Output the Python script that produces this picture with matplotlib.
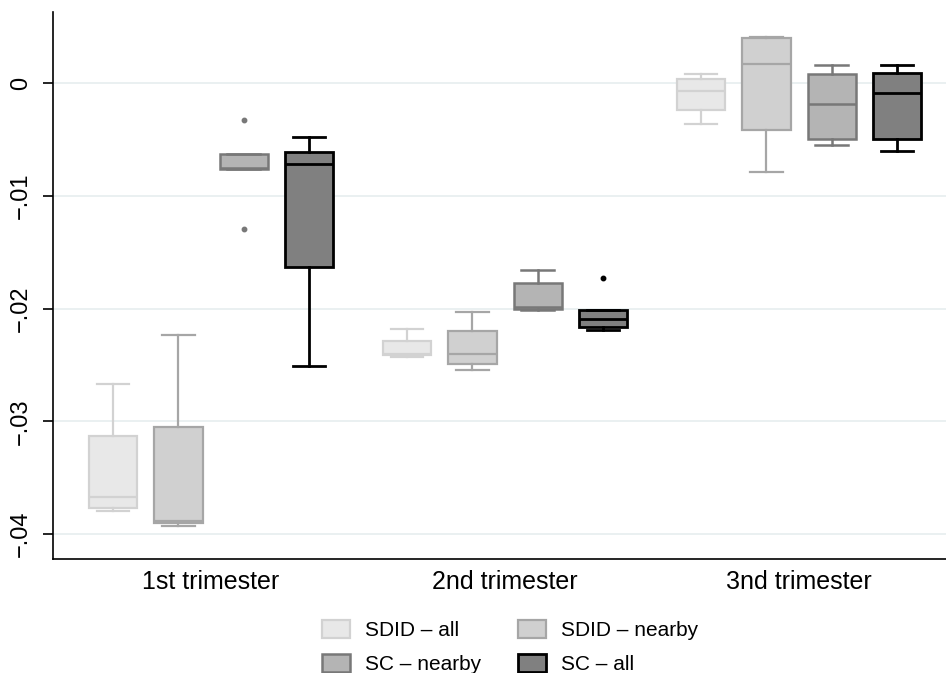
import numpy as np
import matplotlib
matplotlib.use('Agg')
import matplotlib.pyplot as plt
from matplotlib.patches import Patch

plt.rcParams['font.family'] = ['Liberation Sans', 'DejaVu Sans']

# Groups on the x axis
trimesters = ['1st trimester', '2nd trimester', '3nd trimester']
series = ['SDID – all', 'SDID – nearby', 'SC – nearby', 'SC – all']

# Box stats per trimester: [lower whisker, Q1, median, Q3, upper whisker]
sdid_all = [[-0.0379, -0.0377, -0.0367, -0.0313, -0.0267],
            [-0.0243, -0.0241, -0.0240, -0.0229, -0.0218],
            [-0.0036, -0.0024, -0.0007, 0.0004, 0.0008]]
sdid_nearby = [[-0.0393, -0.0390, -0.0388, -0.0305, -0.0223],
               [-0.0254, -0.0249, -0.0240, -0.0220, -0.0203],
               [-0.0079, -0.0042, 0.0017, 0.0040, 0.0041]]
sc_nearby = [[-0.0076, -0.0076, -0.0075, -0.0063, -0.0063],
             [-0.0201, -0.0200, -0.0199, -0.0177, -0.0166],
             [-0.0055, -0.0050, -0.0019, 0.0008, 0.0016]]
sc_all = [[-0.0251, -0.0163, -0.0072, -0.0061, -0.0048],
          [-0.0219, -0.0216, -0.0209, -0.0201, -0.0201],
          [-0.0060, -0.0050, -0.0009, 0.0009, 0.0016]]

# Outside values
sdid_all_out = [[], [], []]
sdid_nearby_out = [[], [], []]
sc_nearby_out = [[-0.0033, -0.0129], [], []]
sc_all_out = [[], [-0.0173], []]

yticks = [-0.04, -0.03, -0.02, -0.01, 0]
ytick_labels = ['\u2212.04', '\u2212.03', '\u2212.02', '\u2212.01', '0']

# styling: fill, edge
fills = ['#e8e8e8', '#d0d0d0', '#b4b4b4', '#808080']
edges = ['#d2d2d2', '#a6a6a6', '#787878', '#000000']
lws = [1.6, 1.6, 1.8, 2.0]

all_series = [sdid_all, sdid_nearby, sc_nearby, sc_all]
all_out = [sdid_all_out, sdid_nearby_out, sc_nearby_out, sc_all_out]

fig = plt.figure(figsize=(9.46, 6.73), dpi=100)
ax = fig.add_axes([53 / 946, 114 / 673, 893 / 946, 547 / 673])

group_gap = 4.5
for j, (vals, outs) in enumerate(zip(all_series, all_out)):
    stats = []
    for g in range(len(trimesters)):
        lo, q1, med, q3, hi = vals[g]
        stats.append(dict(whislo=lo, q1=q1, med=med, q3=q3, whishi=hi, fliers=outs[g]))
    pos = [g * group_gap + j for g in range(len(trimesters))]
    ax.bxp(stats, positions=pos, widths=0.74, capwidths=0.5, patch_artist=True,
           showfliers=True,
           boxprops=dict(facecolor=fills[j], edgecolor=edges[j], linewidth=lws[j]),
           medianprops=dict(color=edges[j], linewidth=lws[j]),
           whiskerprops=dict(color=edges[j], linewidth=lws[j]),
           capprops=dict(color=edges[j], linewidth=lws[j]),
           flierprops=dict(marker='o', markersize=3.2, markerfacecolor=edges[j],
                           markeredgecolor=edges[j]),
           zorder=3)

ax.set_xlim(-0.92, 12.75)
ax.set_ylim(-0.0422, 0.0063)
ax.set_xticks([g * group_gap + 1.5 for g in range(len(trimesters))])
ax.set_xticklabels(trimesters, fontsize=18)
ax.tick_params(axis='x', length=0, pad=8)
ax.set_yticks(yticks)
ax.set_yticklabels(ytick_labels, fontsize=17, rotation=90, va='center')
ax.tick_params(axis='y', length=7, width=1.2, pad=8)

ax.grid(axis='y', color='#e8eff0', linewidth=1.3, zorder=0)
ax.set_axisbelow(True)
for s in ['top', 'right']:
    ax.spines[s].set_visible(False)
for s in ['left', 'bottom']:
    ax.spines[s].set_linewidth(1.2)

handles = [Patch(facecolor=fills[j], edgecolor=edges[j], linewidth=lws[j], label=series[j])
           for j in range(4)]
order = [0, 2, 1, 3]
fig.legend([handles[i] for i in order], [series[i] for i in order], ncol=2,
           loc='center', bbox_to_anchor=(510 / 946, 1 - 647 / 673), frameon=False,
           fontsize=15, handlelength=1.35, handleheight=0.95, handletextpad=0.72,
           columnspacing=1.75, labelspacing=0.65, borderpad=0.2)

fig.savefig('out.png', dpi=100)
